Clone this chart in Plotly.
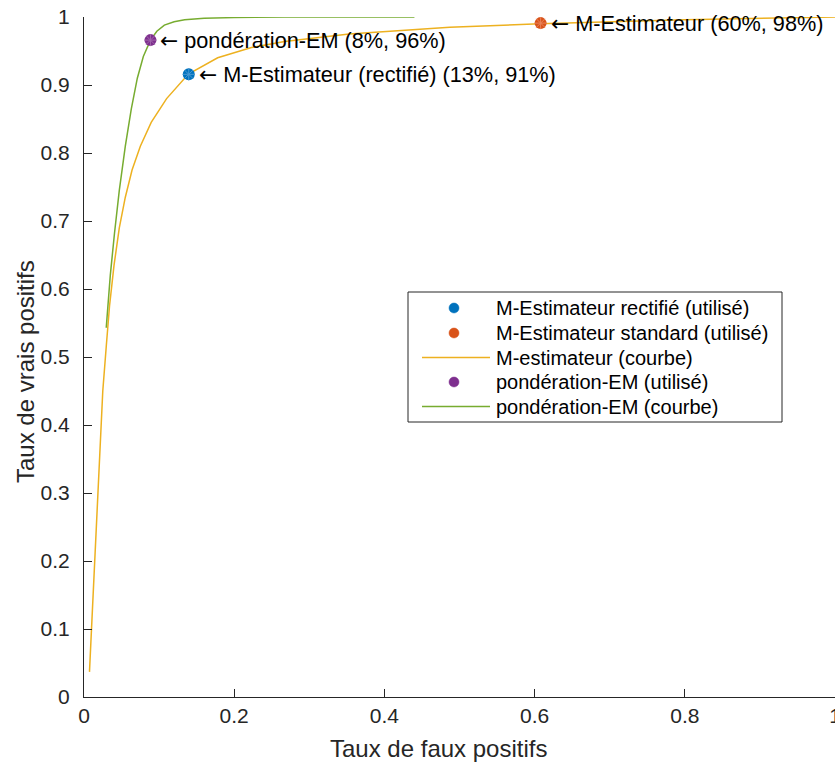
import plotly.graph_objects as go

# ROC curve of the M-estimator
m_curve_fpr = [0.0073, 0.014, 0.0206, 0.025, 0.0296, 0.034, 0.04, 0.047, 0.055, 0.064,
               0.075, 0.0895, 0.11, 0.139, 0.178, 0.223, 0.267, 0.353, 0.487, 0.607, 0.8, 1.0]
m_curve_tpr = [0.037, 0.2, 0.36, 0.45, 0.515, 0.575, 0.635, 0.69, 0.735, 0.775,
               0.81, 0.845, 0.88, 0.916, 0.94, 0.955, 0.964, 0.975, 0.985, 0.990, 0.996, 1.0]

# ROC curve of the EM weighting
em_curve_fpr = [0.0296, 0.035, 0.0406, 0.047, 0.055, 0.063, 0.071, 0.079, 0.0885, 0.097,
                0.107, 0.12, 0.134, 0.16, 0.2, 0.267, 0.44]
em_curve_tpr = [0.543, 0.62, 0.682, 0.745, 0.81, 0.865, 0.91, 0.942, 0.966, 0.979,
                0.988, 0.993, 0.9958, 0.998, 0.9992, 1.0, 1.0]

# operating points used
pt_rect = (0.1395, 0.9157)
pt_std = (0.608, 0.991)
pt_em = (0.0885, 0.966)

lab_rect = "M-Estimateur (rectifié) (13%, 91%)"
lab_std = "M-Estimateur (60%, 98%)"
lab_em = "pondération-EM (8%, 96%)"

legend_names = ["M-Estimateur rectifié (utilisé)", "M-Estimateur standard (utilisé)",
                "M-estimateur (courbe)", "pondération-EM (utilisé)", "pondération-EM (courbe)"]

x_title = "Taux de faux positifs"
y_title = "Taux de vrais positifs"

x_ticks = [0, 0.2, 0.4, 0.6, 0.8, 1]
x_ticklabels = ["0", "0.2", "0.4", "0.6", "0.8", "1"]
y_ticks = [0, 0.1, 0.2, 0.3, 0.4, 0.5, 0.6, 0.7, 0.8, 0.9, 1]
y_ticklabels = ["0", "0.1", "0.2", "0.3", "0.4", "0.5", "0.6", "0.7", "0.8", "0.9", "1"]

BLUE = "#0072BD"
RED = "#D95319"
YELLOW = "#EDB120"
PURPLE = "#7E2F8E"
GREEN = "#77AC30"
AX = "#262626"
FONT = "Liberation Sans, Arial, Helvetica, sans-serif"

# plot-area geometry (pixels) used for the hand-made legend box and titles
L, R, T, B = 84, 835, 17, 697
def px(xp):
    return (xp - L) / (R - L)
def py(yp):
    return (B - yp) / (B - T)

fig = go.Figure()

fig.add_trace(go.Scatter(x=m_curve_fpr, y=m_curve_tpr, mode="lines",
                         line=dict(color=YELLOW, width=1.5), name=legend_names[2]))
fig.add_trace(go.Scatter(x=em_curve_fpr, y=em_curve_tpr, mode="lines",
                         line=dict(color=GREEN, width=1.5), name=legend_names[4]))

points = [(pt_rect, BLUE, "#4a98d2", legend_names[0]),
          (pt_std, RED, "#e9845a", legend_names[1]),
          (pt_em, PURPLE, "#a066ab", legend_names[3])]
for (x0, y0), c, c2, nm in points:
    fig.add_trace(go.Scatter(x=[x0], y=[y0], mode="markers", name=nm,
                             marker=dict(color=c, size=12, symbol="circle", line=dict(width=0))))
    fig.add_trace(go.Scatter(x=[x0], y=[y0], mode="markers", hoverinfo="skip",
                             marker=dict(symbol="asterisk-open", size=10, color=c2,
                                         line=dict(color=c2, width=1))))

ARROW = '<span style="font-family:DejaVu Sans">←</span> '
for (x0, y0), txt in [(pt_em, lab_em), (pt_rect, lab_rect), (pt_std, lab_std)]:
    fig.add_annotation(x=x0, y=y0, text=ARROW + txt, showarrow=False, xanchor="left",
                       yanchor="middle", xshift=8, font=dict(size=21.7, color="#000000", family=FONT))

# legend box
fig.add_shape(type="rect", xref="paper", yref="paper", x0=px(408), x1=px(782),
              y0=py(422), y1=py(292), line=dict(color=AX, width=1), fillcolor="white", layer="above")
rows = [308, 333, 357.5, 382, 406.5]
kinds = [("marker", BLUE), ("marker", RED), ("line", YELLOW), ("marker", PURPLE), ("line", GREEN)]
for yr, (kind, col), nm in zip(rows, kinds, legend_names):
    if kind == "line":
        fig.add_shape(type="line", xref="paper", yref="paper", x0=px(422), x1=px(490),
                      y0=py(yr), y1=py(yr), line=dict(color=col, width=1.5), layer="above")
    else:
        fig.add_shape(type="circle", xref="paper", yref="paper", xsizemode="pixel", ysizemode="pixel",
                      xanchor=px(454), yanchor=py(yr), x0=-5, x1=5, y0=-5, y1=5,
                      fillcolor=col, line=dict(color=col, width=0.5), layer="above")
    fig.add_annotation(xref="paper", yref="paper", x=px(494), y=py(yr), text=nm, showarrow=False,
                       xanchor="left", yanchor="middle", font=dict(size=20, color="#000000", family=FONT))

# axis titles
fig.add_annotation(xref="paper", yref="paper", x=px(438), y=py(748), text=x_title, showarrow=False,
                   xanchor="center", yanchor="middle", font=dict(size=24, color=AX, family=FONT))
fig.add_annotation(xref="paper", yref="paper", x=px(26), y=py(372), text=y_title, showarrow=False,
                   textangle=-90, xanchor="center", yanchor="middle",
                   font=dict(size=24, color=AX, family=FONT))

fig.update_layout(
    width=835, height=763,
    margin=dict(l=L, r=0, t=T, b=763 - B, autoexpand=False),
    paper_bgcolor="white", plot_bgcolor="white",
    font=dict(family=FONT, size=21, color=AX),
    showlegend=False,
)
fig.update_xaxes(range=[0, 1], tickvals=x_ticks, ticktext=x_ticklabels, automargin=False,
                 showgrid=False, zeroline=False, showline=True, linecolor=AX, linewidth=1,
                 ticks="inside", ticklen=8, tickcolor=AX, tickwidth=1,
                 tickfont=dict(size=21, color=AX), ticklabeloverflow="allow")
fig.update_yaxes(range=[0, 1], tickvals=y_ticks, ticktext=y_ticklabels, automargin=False,
                 showgrid=False, zeroline=False, showline=True, linecolor=AX, linewidth=1,
                 ticks="inside", ticklen=8, tickcolor=AX, tickwidth=1,
                 tickfont=dict(size=21, color=AX), ticklabelstandoff=9, ticklabeloverflow="allow")

fig.write_html("out.html", config={"displayModeBar": False},
               post_script="document.body.style.margin='0px';")
